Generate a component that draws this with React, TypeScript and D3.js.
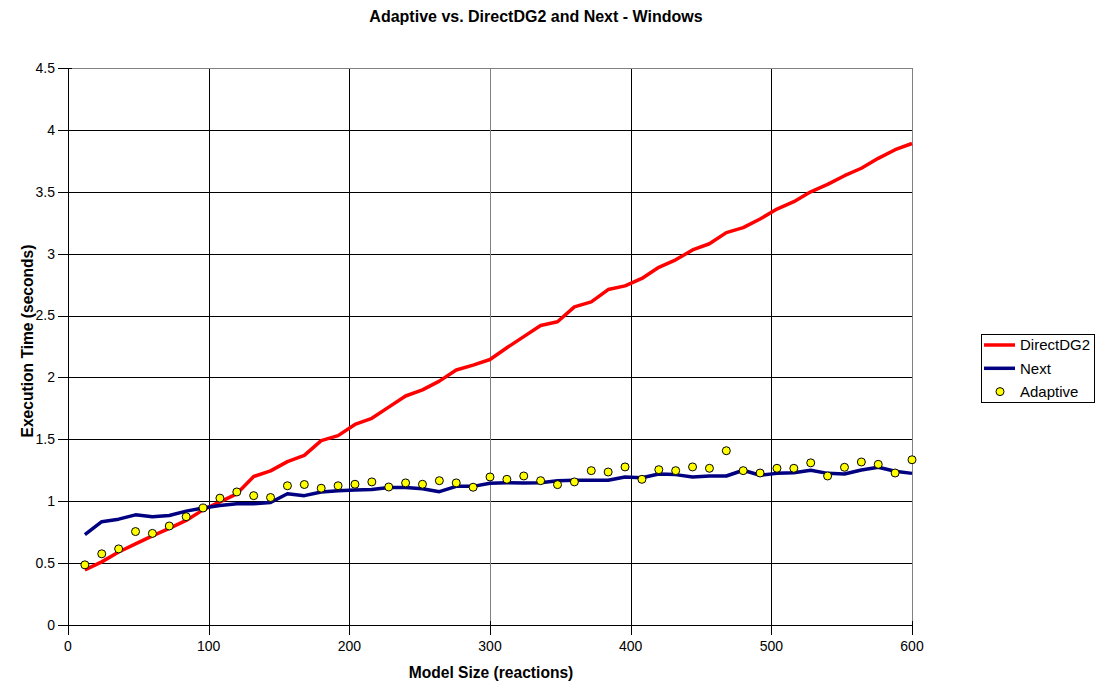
import React from "react";
import * as d3 from "d3";

const sizes = [12,24,36,48,60,72,84,96,108,120,132,144,156,168,180,192,204,216,228,240,252,264,276,288,300,312,324,336,348,360,372,384,396,408,420,432,444,456,468,480,492,504,516,528,540,552,564,576,588,600];
const directDG2 = [0.445,0.51,0.59,0.655,0.72,0.78,0.845,0.93,0.995,1.06,1.2,1.245,1.32,1.37,1.49,1.53,1.62,1.67,1.76,1.85,1.9,1.97,2.06,2.1,2.145,2.24,2.33,2.42,2.45,2.57,2.61,2.71,2.74,2.8,2.89,2.95,3.03,3.08,3.17,3.21,3.28,3.36,3.42,3.5,3.56,3.63,3.69,3.77,3.84,3.89];
const next = [0.73,0.835,0.855,0.89,0.875,0.885,0.92,0.945,0.965,0.98,0.98,0.99,1.06,1.045,1.075,1.085,1.09,1.095,1.11,1.11,1.1,1.077,1.12,1.12,1.145,1.15,1.147,1.15,1.165,1.17,1.17,1.17,1.195,1.19,1.22,1.215,1.195,1.204,1.204,1.25,1.21,1.225,1.23,1.25,1.225,1.22,1.252,1.274,1.242,1.225];
const adaptive = [0.486,0.575,0.615,0.755,0.74,0.8,0.875,0.945,1.025,1.075,1.045,1.03,1.125,1.135,1.105,1.125,1.137,1.156,1.115,1.148,1.137,1.166,1.148,1.113,1.196,1.177,1.204,1.166,1.134,1.156,1.247,1.236,1.277,1.177,1.255,1.247,1.277,1.266,1.408,1.247,1.228,1.266,1.266,1.31,1.204,1.274,1.317,1.298,1.228,1.335];
const xTicks = [0,100,200,300,400,500,600];
const yTicks = [0,0.5,1,1.5,2,2.5,3,3.5,4,4.5];
const legendItems = ["DirectDG2","Next","Adaptive"];

export default function App() {
  const W = 1099, H = 687;
  const L = 68, R = 912, T = 68, B = 625;
  const x = d3.scaleLinear().domain([0, 600]).range([L, R]);
  const y = d3.scaleLinear().domain([0, 4.5]).range([B, T]);
  const font = "'Liberation Sans', Arial, sans-serif";
  const lineGen = (vals: number[]) =>
    d3.line<number>().x((_, i) => x(sizes[i])).y((d) => y(d))(vals) || "";

  return (
    <svg width={W} height={H} style={{ position: "absolute", left: 0, top: 0 }} fontFamily={font}>
      <rect x={0} y={0} width={W} height={H} fill="#fff" />
      {/* grid */}
      {yTicks.filter((t) => t > 0).map((t) => (
        <line key={"gy" + t} x1={L} x2={R} y1={Math.round(y(t)) + 0.5} y2={Math.round(y(t)) + 0.5} stroke="#000" strokeWidth={1} />
      ))}
      {xTicks.filter((t) => t > 0 && t < 600).map((t) => (
        <line key={"gx" + t} y1={T} y2={B} x1={Math.round(x(t)) + 0.5} x2={Math.round(x(t)) + 0.5} stroke={t === 300 ? "#808080" : "#000"} strokeWidth={1} />
      ))}
      {/* plot border */}
      <line x1={L} x2={R} y1={T + 0.5} y2={T + 0.5} stroke="#808080" />
      <line x1={R + 0.5} x2={R + 0.5} y1={T} y2={B} stroke="#808080" />
      {/* axes */}
      <line x1={L + 0.5} x2={L + 0.5} y1={T} y2={B} stroke="#000" />
      <line x1={L} x2={R} y1={B + 0.5} y2={B + 0.5} stroke="#000" />
      {yTicks.map((t) => (
        <g key={"ty" + t}>
          <line x1={L - 10} x2={L + 4} y1={Math.round(y(t)) + 0.5} y2={Math.round(y(t)) + 0.5} stroke="#000" />
          <text x={L - 13} y={y(t)} dy="0.35em" textAnchor="end" fontSize={14}>{t}</text>
        </g>
      ))}
      {xTicks.map((t) => (
        <g key={"tx" + t}>
          <line y1={B - 4} y2={B + 10} x1={Math.round(x(t)) + 0.5} x2={Math.round(x(t)) + 0.5} stroke="#000" />
          <text x={x(t)} y={B + 26} textAnchor="middle" fontSize={14}>{t}</text>
        </g>
      ))}
      {/* series */}
      <path d={lineGen(directDG2)} fill="none" stroke="#ff0000" strokeWidth={3.5} strokeLinejoin="round" />
      <path d={lineGen(next)} fill="none" stroke="#000080" strokeWidth={3.5} strokeLinejoin="round" />
      {adaptive.map((v, i) => (
        <circle key={"a" + i} cx={x(sizes[i])} cy={y(v)} r={4} fill="#ffff00" stroke="#000" strokeWidth={1} />
      ))}
      {/* titles */}
      <text x={536} y={21.5} textAnchor="middle" fontSize={16} fontWeight="bold">Adaptive vs. DirectDG2 and Next - Windows</text>
      <text x={491} y={678} textAnchor="middle" fontSize={15.6} fontWeight="bold">Model Size (reactions)</text>
      <text transform={`translate(33,341) rotate(-90)`} textAnchor="middle" fontSize={15.6} fontWeight="bold">Execution Time (seconds)</text>
      {/* legend */}
      <rect x={981.5} y={334.5} width={113} height={68} fill="#fff" stroke="#000" />
      {legendItems.map((name, i) => {
        const ly = 345 + i * 23.3;
        return (
          <g key={name}>
            {i < 2 ? (
              <line x1={984} x2={1015} y1={ly} y2={ly} stroke={i === 0 ? "#ff0000" : "#000080"} strokeWidth={3.5} />
            ) : (
              <circle cx={1000} cy={ly} r={4} fill="#ffff00" stroke="#000" />
            )}
            <text x={1020} y={ly} dy="0.36em" fontSize={15}>{name}</text>
          </g>
        );
      })}
    </svg>
  );
}
